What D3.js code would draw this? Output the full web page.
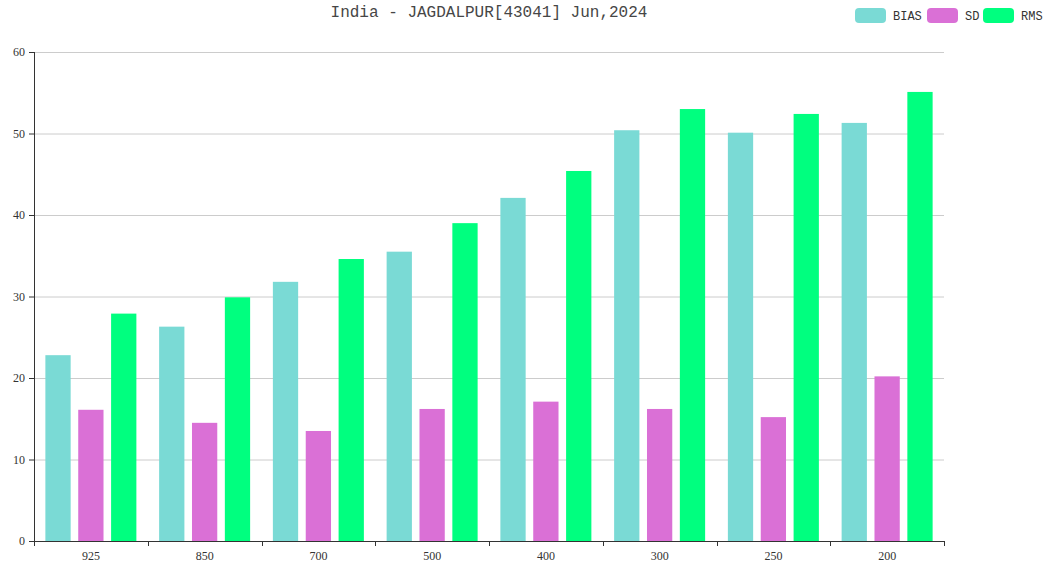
<!DOCTYPE html>
<html>
<head>
<meta charset="utf-8">
<script src="https://cdn.jsdelivr.net/npm/d3@7/dist/d3.min.js"></script>
<style>
  body { margin: 0; background: #fff; }
  svg { display: block; }
</style>
</head>
<body>
<svg id="chart" width="1052" height="567"></svg>
<script>
const levels = ["925", "850", "700", "500", "400", "300", "250", "200"];
const bias = [22.8, 26.3, 31.8, 35.5, 42.1, 50.4, 50.1, 51.3];
const sd = [16.1, 14.5, 13.5, 16.2, 17.1, 16.2, 15.2, 20.2];
const rms = [27.9, 29.9, 34.6, 39.0, 45.4, 53.0, 52.4, 55.1];
const yTicks = [0, 10, 20, 30, 40, 50, 60];

const series = [
  {name: "BIAS", values: bias, color: "#7adad5"},
  {name: "SD", values: sd, color: "#da70d6"},
  {name: "RMS", values: rms, color: "#00ff7f"}
];

const svg = d3.select("#chart");
const margin = {left: 34, right: 108, top: 52, bottom: 26};
const width = 1052, height = 567;
const plotW = width - margin.left - margin.right;
const plotH = height - margin.top - margin.bottom;

const x = d3.scaleBand().domain(levels).range([0, plotW]).paddingInner(0).paddingOuter(0);
const y = d3.scaleLinear().domain([0, 60]).range([plotH, 0]);

// ECharts-like bar layout: 20% category gap, 30% bar gap
const inner = x.bandwidth() * 0.8;
const barW = inner / (3 + 2 * 0.3);
const barGap = barW * 0.3;

const g = svg.append("g").attr("transform", `translate(${margin.left},${margin.top})`);

// grid
g.append("g").selectAll("line")
  .data(yTicks.filter(d => d > 0))
  .join("line")
  .attr("x1", 0).attr("x2", plotW)
  .attr("y1", d => y(d) + 0.5).attr("y2", d => y(d) + 0.5)
  .attr("stroke", "#ccc").attr("stroke-width", 1);

// bars
series.forEach((s, i) => {
  g.append("g").selectAll("rect")
    .data(s.values)
    .join("rect")
    .attr("x", (d, j) => x(levels[j]) + x.bandwidth() * 0.1 + i * (barW + barGap))
    .attr("width", barW)
    .attr("y", d => y(d))
    .attr("height", d => plotH - y(d))
    .attr("fill", s.color);
});

// y axis
const yAxis = g.append("g")
  .call(d3.axisLeft(y).tickValues(yTicks).tickSize(5).tickPadding(4));
yAxis.select(".domain").attr("stroke", "#333").attr("d", `M0.5,${plotH}V0`);
yAxis.selectAll(".tick line").attr("stroke", "#333");
yAxis.selectAll("text")
  .attr("fill", "#333")
  .style("font", "12px 'Liberation Serif', serif");

// x axis
const xAxis = g.append("g")
  .attr("transform", `translate(0,${plotH})`)
  .call(d3.axisBottom(x).tickSize(0).tickPadding(10));
xAxis.select(".domain").attr("stroke", "#333").attr("d", `M0,0.5H${plotW}`);
xAxis.selectAll("text")
  .attr("fill", "#333")
  .style("font", "12px 'Liberation Serif', serif");
xAxis.append("g").selectAll("line")
  .data(d3.range(levels.length + 1))
  .join("line")
  .attr("x1", d => Math.round(d * x.bandwidth()) + 0.5)
  .attr("x2", d => Math.round(d * x.bandwidth()) + 0.5)
  .attr("y1", 0).attr("y2", 5)
  .attr("stroke", "#333");

// title
svg.append("text")
  .attr("x", 489).attr("y", 17)
  .attr("text-anchor", "middle")
  .attr("fill", "#464646")
  .style("font", "16px 'Liberation Mono', monospace")
  .text("India - JAGDALPUR[43041] Jun,2024");

// legend
const legendX = [855, 927, 983];
const legend = svg.append("g").selectAll("g")
  .data(series)
  .join("g")
  .attr("transform", (d, i) => `translate(${legendX[i]},8)`);
legend.append("rect")
  .attr("width", 31).attr("height", 15).attr("rx", 4)
  .attr("fill", d => d.color);
legend.append("text")
  .attr("x", 38).attr("y", 12)
  .attr("fill", "#333")
  .style("font", "12px 'Liberation Mono', monospace")
  .text(d => d.name);
</script>
</body>
</html>
